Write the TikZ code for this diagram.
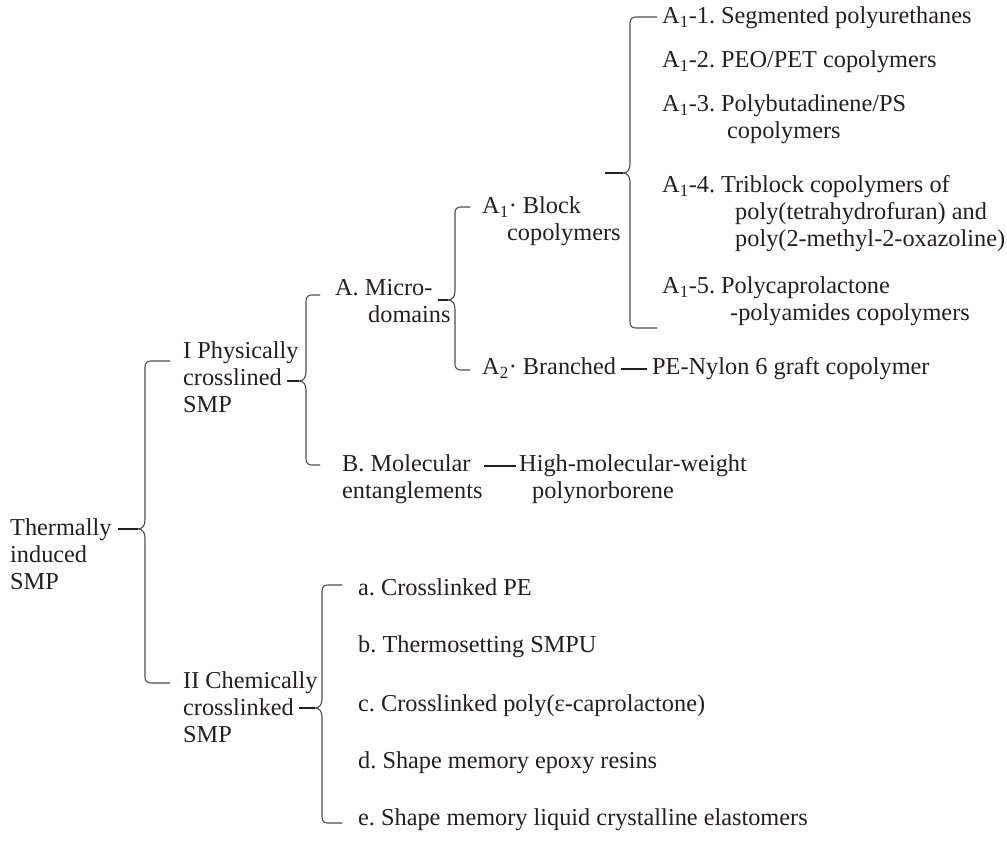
\documentclass[tikz,border=0pt]{standalone}
\usepackage{fontspec}
\setmainfont{Liberation Serif}
\usetikzlibrary{calc}
\definecolor{ink}{HTML}{231F20}
% Curly bracket: spine x, top y, notch y, bottom y, tick length, name of the notch tip
\newcommand\treebrace[6]{%
  \draw[brace] (#1+#5,#2) -- (#1+6,#2) .. controls (#1+2,#2) and (#1,#2+2) .. (#1,#2+6)
    -- (#1,#3-9) .. controls (#1,#3-3) and (#1-3,#3) .. (#1-7,#3) coordinate (#6)
    .. controls (#1-3,#3) and (#1,#3+3) .. (#1,#3+9)
    -- (#1,#4-6) .. controls (#1,#4-2) and (#1+2,#4) .. (#1+6,#4) -- (#1+#5,#4);}
\begin{document}
\frenchspacing
\begin{tikzpicture}[x=1pt,y=-1pt,
  lbl/.style={anchor=west, inner sep=0pt, text height=15pt, text depth=4.4pt,
    text=ink, font=\fontsize{24.3}{27}\selectfont\frenchspacing},
  brace/.style={draw=ink!80, line width=1.1pt},
  link/.style={draw=ink, line width=1.5pt}]
\useasboundingbox (0,0) rectangle (1007,857);

% root
\node[lbl] (root1) at (10,530) {Thermally};
\node[lbl] (root2) at (10,557) {induced};
\node[lbl] (root3) at (10,584) {SMP};

% physical / chemical branches
\node[lbl] (p1) at (183,353) {I Physically};
\node[lbl] (p2) at (183,380) {crosslined};
\node[lbl] (p3) at (183,407) {SMP};
\node[lbl] (c1) at (183,683) {II Chemically};
\node[lbl] (c2) at (183,710) {crosslinked};
\node[lbl] (c3) at (183,737) {SMP};

% physically crosslinked
\node[lbl] (m1) at (335,290) {A. Micro-};
\node[lbl] (m2) at (368,317) {domains};
\node[lbl] (b1) at (342,466) {B. Molecular};
\node[lbl] (b2) at (342,493) {entanglements};
\node[lbl] (h1) at (519,466) {High-molecular-weight};
\node[lbl] (h2) at (532,493) {polynorborene};

% micro-domains
\node[lbl] (k1) at (482,208) {A\textsubscript{1}· Block};
\node[lbl] (k2) at (507,235) {copolymers};
\node[lbl] (r1) at (482,369) {A\textsubscript{2}· Branched};
\node[lbl] (g1) at (652,369) {PE-Nylon 6 graft copolymer};

% block copolymers
\node[lbl] (s1) at (662,18) {A\textsubscript{1}-1. Segmented polyurethanes};
\node[lbl] (s2) at (662,62) {A\textsubscript{1}-2. PEO/PET copolymers};
\node[lbl] (s3) at (662,106) {A\textsubscript{1}-3. Polybutadinene/PS};
\node[lbl] (s3b) at (727,133) {copolymers};
\node[lbl] (s4) at (662,187) {A\textsubscript{1}-4. Triblock copolymers of};
\node[lbl] (s4b) at (735,214) {poly(tetrahydrofuran) and};
\node[lbl] (s4c) at (735,241) {poly(2-methyl-2-oxazoline)};
\node[lbl] (s5) at (662,288) {A\textsubscript{1}-5. Polycaprolactone};
\node[lbl] (s5b) at (730,315) {-polyamides copolymers};

% chemically crosslinked
\node[lbl] (e1) at (358,590) {a. Crosslinked PE};
\node[lbl] (e2) at (358,647) {b. Thermosetting SMPU};
\node[lbl] (e3) at (358,706) {c. Crosslinked poly(ε-caprolactone)};
\node[lbl] (e4) at (358,763) {d. Shape memory epoxy resins};
\node[lbl] (e5) at (358,820) {e. Shape memory liquid crystalline elastomers};

% brackets
\treebrace{145}{361}{529}{683}{25}{n1}
\treebrace{306}{295}{381}{465}{14}{n2}
\treebrace{322}{585}{708}{823}{20}{n5}
\treebrace{455}{207}{300}{370}{15}{n3}
\treebrace{630}{17}{173}{328}{27}{n4}
\coordinate (k0) at (605,173);
\coordinate (bl) at (484,466);

% links from parents to brackets
\draw[link] ([xshift=6pt]root1.east |- n1) -- (n1);
\draw[link] ([xshift=5pt]p2.east |- n2) -- (n2);
\draw[link] ([xshift=5pt]c2.east |- n5) -- (n5);
\draw[link] ([xshift=5pt]m1.east |- n3) -- (n3);
\draw[link] (k0) -- (n4);
\draw[link] ([xshift=5pt]r1.east) -- ([xshift=-5pt]g1.west);
\draw[link] (bl) -- ([xshift=-3pt]h1.west);
\end{tikzpicture}
\end{document}
